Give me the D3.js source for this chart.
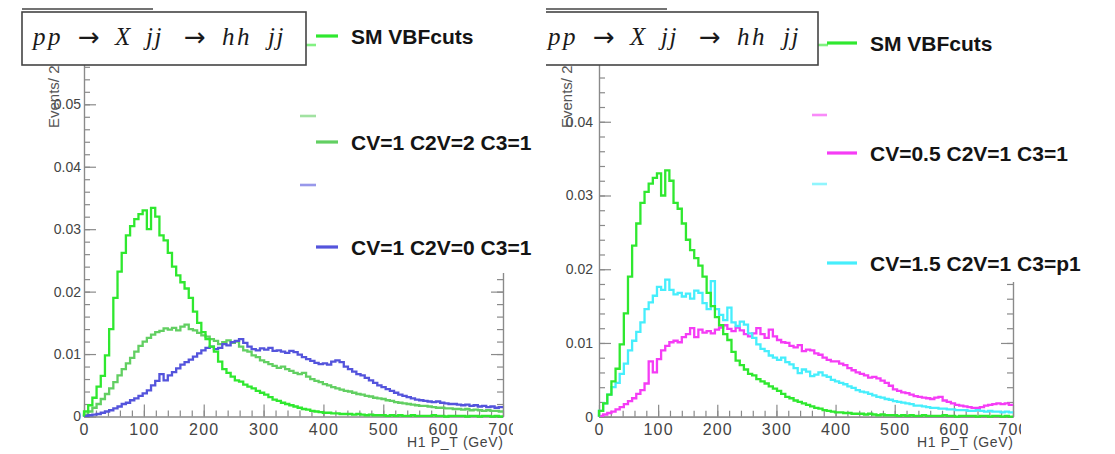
<!DOCTYPE html>
<html>
<head>
<meta charset="utf-8">
<script src="https://cdn.jsdelivr.net/npm/d3@7"></script>
<style>
  body { margin: 0; background: #fff; }
  svg { display: block; }
  .tick text { font-family: "Liberation Sans", Arial, sans-serif; fill: #444; }
</style>
</head>
<body>
<svg id="chart" width="1115" height="454"></svg>
<script>
// ---- Histogram binning: H1 pT, 0-700 GeV, 7 GeV bins ----
const binWidth = 7;
const binLow = d3.range(0, 700, binWidth);

// Normalised H1 pT distributions (one value per bin)
const smVBF = [
  0.0008,0.0018,0.0030,0.0048,0.0065,0.0098,0.0140,0.0190,0.0232,0.0262,
  0.0290,0.0305,0.0316,0.0324,0.0330,0.0300,0.0334,0.0320,0.0290,0.0282,
  0.0262,0.0240,0.0226,0.0215,0.0205,0.0190,0.0168,0.0150,0.0135,0.0124,
  0.0112,0.0104,0.0088,0.0076,0.0070,0.0064,0.0058,0.0056,0.0051,0.0048,
  0.0045,0.0041,0.0038,0.0035,0.0031,0.0027,0.0025,0.0022,0.0020,0.0018,
  0.0016,0.0014,0.0012,0.0011,0.0009,0.0008,0.0007,0.0006,0.0006,0.0005,
  0.0005,0.0004,0.0004,0.0004,0.0003,0.0004,0.0003,0.0002,0.0003,0.0002,
  0.0002,0.0002,0.0001,0.0002,0.0001,0.0002,0.0001,0.0001,0.0002,0.0001,
  0.0001,0.0001,0.0001,0.0002,0.0001,0.0001,0.0000,0.0001,0.0001,0.0001,
  0.0001,0.0000,0.0001,0.0001,0.0000,0.0001,0.0001,0.0000,0.0001,0.0000
];
const cv1c2v2c31 = [
  0.0003,0.0008,0.0014,0.0020,0.0028,0.0036,0.0045,0.0055,0.0066,0.0076,
  0.0085,0.0094,0.0104,0.0113,0.0120,0.0126,0.0131,0.0135,0.0137,0.0141,
  0.0139,0.0142,0.0138,0.0144,0.0147,0.0140,0.0138,0.0134,0.0130,0.0128,
  0.0124,0.0121,0.0116,0.0119,0.0122,0.0118,0.0120,0.0112,0.0106,0.0104,
  0.0098,0.0095,0.0090,0.0087,0.0084,0.0081,0.0078,0.0080,0.0076,0.0073,
  0.0070,0.0068,0.0070,0.0064,0.0060,0.0057,0.0055,0.0052,0.0050,0.0047,
  0.0045,0.0043,0.0041,0.0040,0.0038,0.0036,0.0035,0.0033,0.0032,0.0030,
  0.0029,0.0028,0.0026,0.0025,0.0023,0.0022,0.0021,0.0020,0.0019,0.0018,
  0.0017,0.0017,0.0016,0.0015,0.0014,0.0014,0.0013,0.0013,0.0012,0.0012,
  0.0011,0.0012,0.0010,0.0011,0.0010,0.0009,0.0010,0.0009,0.0009,0.0008
];
const cv1c2v0c31 = [
  0.0001,0.0002,0.0003,0.0004,0.0006,0.0008,0.0010,0.0013,0.0016,0.0020,
  0.0022,0.0026,0.0029,0.0033,0.0037,0.0042,0.0050,0.0057,0.0068,0.0058,
  0.0066,0.0071,0.0077,0.0083,0.0087,0.0091,0.0096,0.0101,0.0106,0.0110,
  0.0112,0.0108,0.0110,0.0116,0.0114,0.0119,0.0121,0.0124,0.0118,0.0112,
  0.0108,0.0106,0.0109,0.0107,0.0110,0.0105,0.0106,0.0104,0.0102,0.0105,
  0.0103,0.0099,0.0095,0.0092,0.0089,0.0086,0.0084,0.0085,0.0083,0.0088,
  0.0090,0.0087,0.0080,0.0076,0.0072,0.0068,0.0066,0.0062,0.0058,0.0054,
  0.0050,0.0047,0.0044,0.0041,0.0038,0.0035,0.0033,0.0031,0.0029,0.0027,
  0.0026,0.0025,0.0024,0.0023,0.0024,0.0022,0.0021,0.0020,0.0020,0.0019,
  0.0018,0.0019,0.0017,0.0018,0.0016,0.0017,0.0015,0.0016,0.0014,0.0015
];
const cv05c2v1c31 = [
  0.0001,0.0003,0.0005,0.0007,0.0010,0.0013,0.0017,0.0021,0.0025,0.0031,
  0.0036,0.0045,0.0075,0.0060,0.0078,0.0090,0.0096,0.0101,0.0103,0.0101,
  0.0108,0.0112,0.0120,0.0108,0.0118,0.0114,0.0116,0.0113,0.0118,0.0121,
  0.0124,0.0119,0.0116,0.0121,0.0117,0.0112,0.0109,0.0113,0.0120,0.0112,
  0.0107,0.0118,0.0109,0.0104,0.0101,0.0100,0.0096,0.0094,0.0097,0.0089,
  0.0091,0.0090,0.0086,0.0084,0.0080,0.0077,0.0075,0.0075,0.0072,0.0070,
  0.0066,0.0063,0.0060,0.0058,0.0056,0.0053,0.0054,0.0052,0.0049,0.0046,
  0.0042,0.0037,0.0035,0.0033,0.0032,0.0030,0.0028,0.0027,0.0026,0.0025,
  0.0024,0.0026,0.0027,0.0022,0.0020,0.0018,0.0016,0.0015,0.0014,0.0013,
  0.0012,0.0012,0.0013,0.0015,0.0016,0.0017,0.0018,0.0017,0.0018,0.0016
];
const cv15c2v1c3p1 = [
  0.0008,0.0018,0.0030,0.0040,0.0046,0.0058,0.0072,0.0090,0.0103,0.0115,
  0.0128,0.0146,0.0155,0.0164,0.0176,0.0172,0.0186,0.0172,0.0166,0.0168,
  0.0163,0.0167,0.0160,0.0171,0.0168,0.0154,0.0146,0.0184,0.0146,0.0138,
  0.0131,0.0148,0.0128,0.0123,0.0129,0.0125,0.0113,0.0107,0.0098,0.0092,
  0.0089,0.0083,0.0080,0.0077,0.0080,0.0074,0.0071,0.0066,0.0059,0.0064,
  0.0061,0.0055,0.0057,0.0060,0.0056,0.0054,0.0050,0.0048,0.0046,0.0044,
  0.0041,0.0039,0.0036,0.0034,0.0033,0.0031,0.0029,0.0027,0.0026,0.0024,
  0.0023,0.0021,0.0020,0.0019,0.0018,0.0017,0.0015,0.0015,0.0014,0.0013,
  0.0012,0.0012,0.0011,0.0011,0.0010,0.0010,0.0009,0.0009,0.0009,0.0008,
  0.0008,0.0009,0.0008,0.0007,0.0008,0.0007,0.0007,0.0006,0.0007,0.0006
];

// Axis ticks and text
const xMajorTicks = [0, 100, 200, 300, 400, 500, 600, 700];
const xMinorTicks = d3.range(0, 36).map(i => i * 20);
const yMajorTicks = [0, 0.01, 0.02, 0.03, 0.04, 0.05, 0.06];
const yMinorTicks = d3.range(0, 32).map(i => i * 0.002);
const xTitle = "H1 P_T (GeV)";
const yTitle = "Events/ 2";
// process label tokens: text, italic, offset from the label start, font size
const processTokens = ["pp", "\u2192", "X", "jj", "\u2192", "hh", "jj"];
const processItalic = [true, false, true, true, false, true, true];
const legendLabelsLeft = ["SM VBFcuts", "CV=1 C2V=2 C3=1", "CV=1 C2V=0 C3=1"];
const legendLabelsRight = ["SM VBFcuts", "CV=0.5 C2V=1 C3=1", "CV=1.5 C2V=1 C3=p1"];

const colors = {
  sm: "#2fe82f",
  c2v2: "#62cf62",
  c2v0: "#5454dc",
  cv05: "#f53cf5",
  cv15: "#46eefc"
};

// token layout inside the process box
const tokenDx = [0, 45, 82, 113, 151, 189, 235];
const tokenSpacing = [2.5, 0, 0, 1.5, 0, 2.5, 1.5];

const svg = d3.select("#chart");
const defs = svg.append("defs");

const panels = [
  {
    id: "padL", clip: [0, 0, 545, 454], axisClip: [0, 0, 513, 454],
    x0: 84, x1: 503, y0: 416.5, yTop: 20, yMax: 0.0635, yPad: 3,
    series: [
      { data: cv1c2v2c31, color: colors.c2v2 },
      { data: cv1c2v0c31, color: colors.c2v0 },
      { data: smVBF, color: colors.sm }
    ],
    legendRect: [298, 0, 230, 273],
    legend: [
      { label: legendLabelsLeft[0], color: colors.sm, y: 36 },
      { label: legendLabelsLeft[1], color: colors.c2v2, y: 142 },
      { label: legendLabelsLeft[2], color: colors.c2v0, y: 247 }
    ],
    legendLine: [316, 338], legendText: 351,
    ghosts: [
      { color: colors.sm, x: [306, 316], y: 45 },
      { color: colors.c2v2, x: [300, 316], y: 116 },
      { color: colors.c2v0, x: [300, 316], y: 185 }
    ],
    yTitleX: 54,
    box: [22, 12, 284, 53], boxText: 33, topLine: [22, 153]
  },
  {
    id: "padR", clip: [546, 0, 569, 454], axisClip: [546, 0, 475, 454],
    x0: 599, x1: 1013, y0: 416.7, yTop: 20, yMax: 0.0538, yPad: 6,
    series: [
      { data: cv05c2v1c31, color: colors.cv05 },
      { data: cv15c2v1c3p1, color: colors.cv15 },
      { data: smVBF, color: colors.sm }
    ],
    legendRect: [810, 0, 305, 282],
    legend: [
      { label: legendLabelsRight[0], color: colors.sm, y: 43 },
      { label: legendLabelsRight[1], color: colors.cv05, y: 153 },
      { label: legendLabelsRight[2], color: colors.cv15, y: 263 }
    ],
    legendLine: [827, 857], legendText: 870,
    ghosts: [
      { color: colors.sm, x: [818, 828], y: 45 },
      { color: colors.cv05, x: [812, 827], y: 115 },
      { color: colors.cv15, x: [812, 827], y: 184 }
    ],
    yTitleX: 567,
    box: [530, 12, 288, 53], boxText: 548, topLine: [540, 667]
  }
];

const fmtY = d => d === 0 ? "0" : d3.format(".2f")(d);

function styleAxis(sel) {
  sel.selectAll(".domain").attr("stroke", "#8a8a8a").attr("stroke-width", 1.2);
  sel.selectAll(".tick line").attr("stroke", "#8a8a8a").attr("stroke-width", 1.2);
}

function addClip(id, r) {
  defs.append("clipPath").attr("id", id)
    .append("rect").attr("x", r[0]).attr("y", r[1]).attr("width", r[2]).attr("height", r[3]);
}

panels.forEach(p => {
  addClip(p.id, p.clip);
  addClip(p.id + "ax", p.axisClip);

  const g = svg.append("g").attr("clip-path", `url(#${p.id})`);
  const ga = g.append("g").attr("clip-path", `url(#${p.id}ax)`);
  const x = d3.scaleLinear().domain([0, 700]).range([p.x0, p.x1]);
  const y = d3.scaleLinear().domain([0, p.yMax]).range([p.y0, p.yTop]);
  const yMaj = yMajorTicks.filter(v => v <= p.yMax);
  const yMin = yMinorTicks.filter(v => v <= p.yMax);

  // Left y axis: inward major/minor ticks with labels
  ga.append("g").attr("transform", `translate(${p.x0},0)`)
    .call(d3.axisLeft(y).tickValues(yMin).tickSize(-6).tickSizeOuter(0).tickFormat(""))
    .call(styleAxis);
  ga.append("g").attr("transform", `translate(${p.x0},0)`)
    .call(d3.axisLeft(y).tickValues(yMaj).tickSize(-12).tickSizeOuter(0).tickPadding(p.yPad).tickFormat(fmtY))
    .call(styleAxis)
    .call(s => s.selectAll("text").attr("font-size", 14));

  // Right frame edge with ticks
  ga.append("g").attr("transform", `translate(${p.x1},0)`)
    .call(d3.axisRight(y).tickValues(yMin).tickSize(-6).tickSizeOuter(0).tickFormat(""))
    .call(styleAxis);
  ga.append("g").attr("transform", `translate(${p.x1},0)`)
    .call(d3.axisRight(y).tickValues(yMaj).tickSize(-12).tickSizeOuter(0).tickFormat(""))
    .call(styleAxis);

  // Bottom x axis
  ga.append("g").attr("transform", `translate(0,${p.y0})`)
    .call(d3.axisBottom(x).tickValues(xMinorTicks).tickSize(-6).tickSizeOuter(0).tickFormat(""))
    .call(styleAxis);
  ga.append("g").attr("transform", `translate(0,${p.y0})`)
    .call(d3.axisBottom(x).tickValues(xMajorTicks).tickSize(-12).tickSizeOuter(0).tickPadding(7).tickFormat(d3.format("d")))
    .call(styleAxis)
    .call(s => s.selectAll("text").attr("font-size", 16).attr("letter-spacing", 1.2));

  ga.append("text")
    .attr("x", p.x1).attr("y", 447)
    .attr("text-anchor", "end")
    .attr("font-family", "Liberation Sans, Arial, sans-serif")
    .attr("font-size", 14).attr("fill", "#444")
    .attr("textLength", 96).attr("lengthAdjust", "spacing")
    .text(xTitle);

  // Histograms drawn as steps
  const line = d3.line().x(d => x(d[0])).y(d => y(d[1])).curve(d3.curveStepAfter);
  p.series.forEach(s => {
    const pts = [[0, 0]].concat(binLow.map((lo, i) => [lo, s.data[i]]), [[700, s.data[s.data.length - 1]]]);
    ga.append("path").attr("d", line(pts))
      .attr("fill", "none").attr("stroke", s.color)
      .attr("stroke-width", 2.3).attr("stroke-linejoin", "miter");
  });

  // Legend (white, borderless)
  g.append("rect").attr("x", p.legendRect[0]).attr("y", p.legendRect[1])
    .attr("width", p.legendRect[2]).attr("height", p.legendRect[3]).attr("fill", "#fff");
  p.ghosts.forEach(gh => {
    g.append("line").attr("x1", gh.x[0]).attr("x2", gh.x[1]).attr("y1", gh.y).attr("y2", gh.y)
      .attr("stroke", d3.interpolateRgb(gh.color, "#fff")(0.4)).attr("stroke-width", 2.6);
  });
  p.legend.forEach(e => {
    g.append("line").attr("x1", p.legendLine[0]).attr("x2", p.legendLine[1])
      .attr("y1", e.y).attr("y2", e.y)
      .attr("stroke", e.color).attr("stroke-width", 3.2);
    g.append("text").attr("x", p.legendText).attr("y", e.y + 7.5)
      .attr("font-family", "Liberation Sans, Arial, sans-serif")
      .attr("font-weight", "bold").attr("font-size", 21).attr("fill", "#141414")
      .text(e.label);
  });

  // y-axis title, partly hidden under the process box
  g.append("text")
    .attr("transform", `translate(${p.yTitleX + 5},128) rotate(-90)`)
    .attr("font-family", "Liberation Sans, Arial, sans-serif")
    .attr("font-size", 15).attr("fill", "#555")
    .text(yTitle);

  // Process label box
  g.append("line").attr("x1", p.topLine[0]).attr("x2", p.topLine[1]).attr("y1", 9).attr("y2", 9)
    .attr("stroke", "#444").attr("stroke-width", 1.6);
  g.append("rect").attr("x", p.box[0]).attr("y", p.box[1])
    .attr("width", p.box[2]).attr("height", p.box[3])
    .attr("fill", "#fff").attr("stroke", "#444").attr("stroke-width", 1.6);
  processTokens.forEach((tok, i) => {
    const italic = processItalic[i];
    g.append("text")
      .attr("x", p.boxText + tokenDx[i]).attr("y", italic ? 45 : 46)
      .attr("font-family", italic ? "Liberation Serif, Times New Roman, serif" : "DejaVu Sans, sans-serif")
      .attr("font-style", italic ? "italic" : "normal")
      .attr("font-size", italic ? 25 : 26)
      .attr("letter-spacing", tokenSpacing[i])
      .attr("fill", "#1a1a1a")
      .text(tok);
  });
});
</script>
</body>
</html>
